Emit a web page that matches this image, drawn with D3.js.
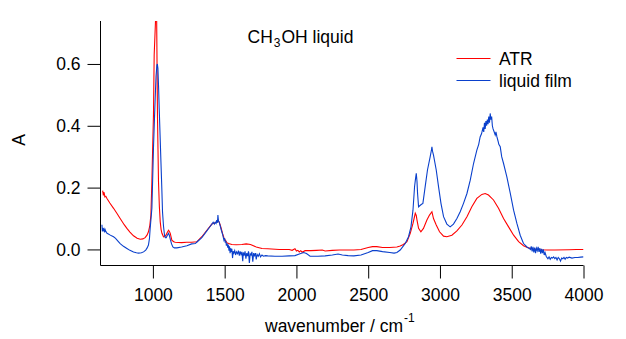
<!DOCTYPE html>
<html><head><meta charset="utf-8">
<script src="https://cdn.jsdelivr.net/npm/d3@7"></script>
<style>
html,body{margin:0;padding:0;background:#fff;}
svg{display:block;}
text{font-family:"Liberation Sans",Arial,sans-serif;}
</style></head>
<body><svg id="c" width="626" height="339"></svg>
<script>
const xTicks = [1000, 1500, 2000, 2500, 3000, 3500, 4000];
const yTicks = [0.0, 0.2, 0.4, 0.6];
const seriesNames = ["ATR", "liquid film"];

// ATR (red)
const atrWn = [650,655,660,665,672,680,700,726,750,772,800,819,840,865,890,912,930,946,960,969,978,986,993,1000,1004,1009,1015,1020,1026,1032,1039,1045,1051,1057,1063,1074,1083,1091,1100,1109,1115,1121,1127,1132,1145,1155,1200,1237,1270,1307,1341,1376,1411,1434,1445,1453,1462,1469,1477,1485,1495,1504,1515,1527,1550,1580,1620,1650,1680,1720,1760,1800,1880,1950,1970,1990,2000,2010,2020,2030,2040,2060,2100,2140,2180,2200,2250,2300,2400,2450,2500,2530,2560,2600,2650,2700,2723,2745,2770,2793,2812,2828,2835,2840,2851,2867,2885,2909,2927,2944,2955,2974,2997,3025,3048,3083,3118,3153,3188,3222,3257,3292,3315,3338,3373,3408,3443,3478,3513,3548,3582,3617,3650,3700,3750,3800,3900,3950,4000];
const atrA = [0.19,0.175,0.185,0.17,0.172,0.165,0.15,0.133,0.116,0.100,0.080,0.068,0.056,0.044,0.036,0.033,0.034,0.038,0.047,0.057,0.075,0.11,0.22,0.36,0.435,0.63,0.70,0.76,0.76,0.43,0.22,0.14,0.09,0.065,0.052,0.041,0.042,0.046,0.055,0.062,0.058,0.052,0.040,0.030,0.025,0.023,0.022,0.023,0.023,0.025,0.041,0.062,0.082,0.086,0.090,0.095,0.088,0.079,0.066,0.052,0.038,0.030,0.022,0.019,0.016,0.015,0.016,0.018,0.016,0.008,0.003,0.002,0.000,0.000,-0.003,0.002,-0.005,-0.003,-0.008,-0.004,-0.009,-0.004,-0.004,-0.003,-0.002,-0.005,-0.003,-0.002,-0.002,0.000,0.006,0.009,0.009,0.006,0.006,0.008,0.011,0.016,0.025,0.052,0.084,0.117,0.110,0.095,0.068,0.057,0.068,0.095,0.111,0.122,0.100,0.079,0.057,0.043,0.041,0.046,0.060,0.079,0.106,0.138,0.165,0.178,0.181,0.176,0.160,0.133,0.100,0.073,0.046,0.025,0.012,0.005,0.001,-0.001,-0.002,-0.002,-0.001,0.000,0.000];

// liquid film (blue)
const filmWn = [645,648,652,656,660,664,668,672,676,680,690,700,712,726,740,755,772,795,819,840,865,885,900,920,935,950,960,969,976,981,987,993,998,1004,1010,1016,1022,1028,1031,1035,1040,1044,1050,1056,1062,1067,1074,1081,1087,1093,1100,1109,1115,1121,1130,1139,1150,1167,1200,1237,1270,1295,1307,1341,1376,1400,1411,1420,1428,1434,1440,1445,1450,1453,1457,1462,1469,1477,1485,1490,1495,1500,1504,1508,1512,1517,1521,1525,1530,1534,1538,1542,1546,1550,1555,1559,1564,1570,1576,1582,1590,1596,1602,1608,1614,1620,1626,1630,1636,1642,1648,1654,1660,1666,1672,1678,1684,1690,1696,1702,1708,1714,1720,1726,1734,1742,1750,1760,1770,1785,1800,1850,1900,1950,1990,2020,2050,2070,2095,2150,2200,2250,2290,2320,2360,2400,2450,2500,2530,2560,2600,2650,2680,2700,2723,2740,2758,2781,2798,2812,2823,2830,2835,2840,2844,2851,2863,2872,2881,2897,2913,2932,2940,2944,2948,2955,2974,2990,3007,3025,3048,3071,3094,3118,3141,3164,3188,3211,3234,3257,3270,3280,3290,3300,3305,3310,3315,3320,3325,3330,3335,3340,3345,3350,3355,3360,3365,3370,3378,3385,3390,3397,3405,3410,3420,3430,3443,3466,3490,3513,3536,3559,3582,3606,3620,3630,3636,3642,3648,3654,3660,3666,3672,3678,3684,3690,3696,3702,3708,3714,3720,3726,3732,3740,3745,3752,3760,3768,3776,3784,3792,3800,3808,3816,3824,3832,3840,3848,3856,3864,3872,3880,3890,3900,3920,3940,3960,3980,4000];
const filmA = [0.08,0.058,0.07,0.062,0.066,0.055,0.063,0.058,0.056,0.052,0.050,0.047,0.044,0.041,0.036,0.028,0.019,0.010,0.003,-0.003,-0.008,-0.011,-0.012,-0.011,-0.008,-0.002,0.005,0.014,0.035,0.068,0.10,0.133,0.22,0.327,0.41,0.489,0.56,0.596,0.60,0.586,0.52,0.456,0.37,0.284,0.20,0.122,0.075,0.046,0.038,0.038,0.045,0.052,0.045,0.033,0.018,0.008,0.005,0.005,0.008,0.012,0.018,0.019,0.024,0.038,0.060,0.075,0.082,0.088,0.082,0.088,0.084,0.095,0.086,0.111,0.092,0.088,0.076,0.062,0.050,0.040,0.030,0.036,0.022,0.028,0.012,0.020,0.006,0.016,-0.004,0.010,-0.012,0.004,-0.008,0.002,-0.028,-0.006,-0.012,-0.004,-0.018,-0.008,-0.014,-0.004,-0.02,-0.006,-0.016,-0.008,-0.038,-0.01,-0.02,-0.006,-0.03,-0.012,-0.022,-0.006,-0.044,-0.014,-0.018,-0.008,-0.04,-0.012,-0.02,-0.012,-0.032,-0.016,-0.022,-0.014,-0.024,-0.018,-0.022,-0.02,-0.021,-0.022,-0.022,-0.021,-0.02,-0.015,-0.01,-0.013,-0.022,-0.022,-0.021,-0.018,-0.015,-0.018,-0.02,-0.021,-0.018,-0.01,-0.004,-0.004,-0.007,-0.01,-0.012,-0.01,-0.002,0.008,0.019,0.041,0.073,0.127,0.203,0.23,0.246,0.22,0.181,0.138,0.143,0.146,0.149,0.203,0.257,0.300,0.320,0.332,0.318,0.305,0.257,0.203,0.149,0.106,0.082,0.073,0.082,0.100,0.122,0.149,0.181,0.224,0.278,0.321,0.34,0.364,0.375,0.395,0.38,0.41,0.39,0.415,0.40,0.42,0.405,0.43,0.41,0.44,0.42,0.43,0.40,0.39,0.38,0.37,0.38,0.364,0.35,0.34,0.332,0.30,0.278,0.235,0.181,0.127,0.084,0.046,0.019,0.008,0.004,0.0,0.01,-0.006,0.008,-0.01,0.006,-0.012,0.004,-0.004,0.008,-0.008,0.004,-0.014,0.002,-0.012,0.0,-0.018,-0.01,-0.022,-0.026,-0.03,-0.024,-0.032,-0.026,-0.028,-0.024,-0.03,-0.026,-0.034,-0.026,-0.03,-0.038,-0.028,-0.03,-0.026,-0.032,-0.026,-0.028,-0.025,-0.028,-0.026,-0.026,-0.025,-0.024];

const colors = ["#ff0000", "#0a40cc"];
const FONT = 17.5;

const svg = d3.select("#c");
const x = d3.scaleLinear().domain([635, 4000]).range([100.5, 583.5]);
const y = d3.scaleLinear().domain([-0.052, 0.739]).range([265.5, 21]);

svg.append("defs").append("clipPath").attr("id", "clip")
  .append("rect").attr("x", 100.5).attr("y", 21).attr("width", 483).attr("height", 244.5);

const line = d3.line().x(d => x(d[0])).y(d => y(d[1]));
const atr = atrWn.map((w, i) => [w, atrA[i]]);
const film = filmWn.map((w, i) => [w, filmA[i]]);

const g = svg.append("g").attr("clip-path", "url(#clip)");
[atr, film].forEach((data, i) => {
  g.append("path").datum(data).attr("d", line)
    .attr("fill", "none").attr("stroke", colors[i]).attr("stroke-width", 1.1)
    .attr("stroke-linejoin", "miter");
});

const xAxis = svg.append("g").attr("transform", "translate(0,265.5)")
  .call(d3.axisBottom(x).tickValues(xTicks).tickFormat(d => String(d))
    .tickSize(13).tickSizeOuter(0).tickPadding(10));
const yAxis = svg.append("g").attr("transform", "translate(100.5,0)")
  .call(d3.axisLeft(y).tickValues(yTicks).tickFormat(d3.format(".1f"))
    .tickSize(13).tickSizeOuter(0).tickPadding(7));
[xAxis, yAxis].forEach(a => {
  a.selectAll("text").attr("font-family", '"Liberation Sans",Arial,sans-serif')
    .attr("font-size", FONT).attr("fill", "#000");
  a.selectAll("line,path").attr("stroke", "#000").attr("stroke-width", 1);
});
yAxis.select(".domain").attr("d", `M0,${y.range()[1]}V${y.range()[0]}`);
xAxis.select(".domain").attr("d", `M${x.range()[0]},0H${x.range()[1]}`);

// axis titles
svg.append("text").attr("transform", "translate(25,140) rotate(-90)")
  .attr("text-anchor", "middle").attr("font-size", FONT).text("A");
const xl = svg.append("text").attr("x", 265).attr("y", 332).attr("font-size", FONT);
xl.append("tspan").text("wavenumber / cm");
xl.append("tspan").attr("font-size", 12).attr("dy", -10).attr("dx", 1).text("-1");

// title
const t = svg.append("text").attr("x", 247.5).attr("y", 43).attr("font-size", FONT);
t.append("tspan").text("CH");
t.append("tspan").attr("font-size", 12).attr("dy", 4).attr("dx", 1).text("3");
t.append("tspan").attr("dy", -4).attr("dx", 1).text("OH liquid");

// legend
const legY = [58.5, 80.5];
seriesNames.forEach((n, i) => {
  svg.append("line").attr("x1", 456.5).attr("x2", 490.5).attr("y1", legY[i]).attr("y2", legY[i])
    .attr("stroke", colors[i]).attr("stroke-width", 1.1);
  svg.append("text").attr("x", 499).attr("y", legY[i] + 6).attr("font-size", FONT).text(n);
});
</script></body></html>
